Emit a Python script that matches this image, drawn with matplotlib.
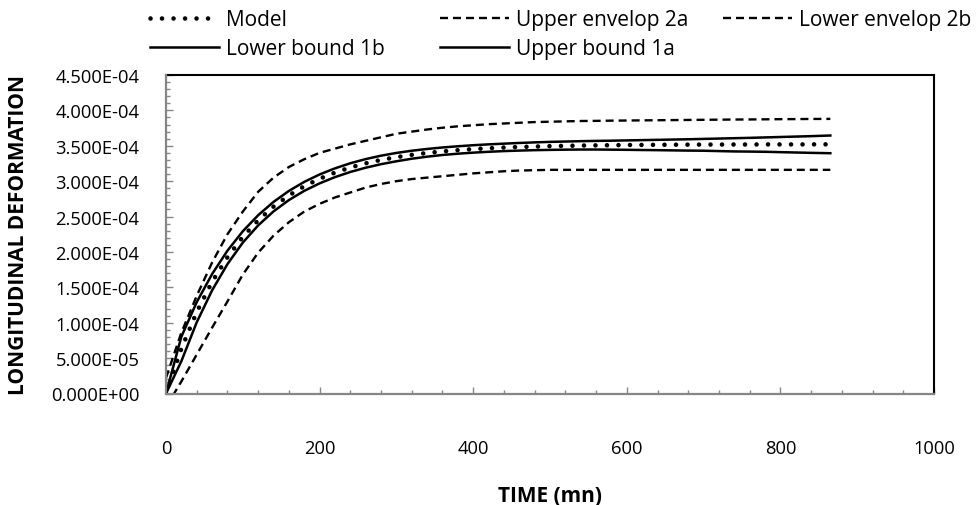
import numpy as np
import matplotlib
matplotlib.use("Agg")
import matplotlib.pyplot as plt
from matplotlib.ticker import MultipleLocator, FuncFormatter

plt.rcParams['font.family'] = ['Open Sans', 'DejaVu Sans']

# ---- data (time in mn, deformation in 1e-4) ----
time = [0, 20, 40, 60, 80, 100, 120, 140, 160, 180, 200, 220, 240, 260, 280, 300,
        320, 340, 360, 380, 400, 420, 440, 460, 480, 500, 520, 540, 560, 580, 600,
        620, 640, 660, 680, 700, 720, 740, 760, 780, 800, 820, 840, 865]

model = [0.000, 0.632, 1.151, 1.577, 1.925, 2.212, 2.447, 2.640, 2.798, 2.928, 3.034,
         3.121, 3.193, 3.252, 3.300, 3.339, 3.372, 3.398, 3.420, 3.438, 3.453, 3.465,
         3.475, 3.483, 3.489, 3.495, 3.499, 3.503, 3.506, 3.508, 3.511, 3.512, 3.514,
         3.515, 3.516, 3.517, 3.517, 3.518, 3.518, 3.519, 3.519, 3.519, 3.520, 3.520]

upper_env_2a = [0.22, 0.86, 1.38, 1.85, 2.25, 2.57, 2.85, 3.05, 3.20, 3.31, 3.40,
                3.46, 3.52, 3.57, 3.62, 3.67, 3.70, 3.73, 3.755, 3.775, 3.79, 3.805,
                3.815, 3.825, 3.835, 3.840, 3.845, 3.850, 3.852, 3.855, 3.857, 3.859,
                3.861, 3.863, 3.865, 3.867, 3.869, 3.871, 3.872, 3.874, 3.876, 3.877,
                3.879, 3.880]

lower_env_2b = [-0.19, 0.17, 0.55, 0.93, 1.30, 1.68, 1.99, 2.23, 2.42, 2.57, 2.68,
                2.77, 2.84, 2.91, 2.96, 3.00, 3.03, 3.05, 3.07, 3.09, 3.11, 3.125,
                3.14, 3.15, 3.155, 3.16, 3.16, 3.16, 3.16, 3.16, 3.16, 3.16, 3.16,
                3.16, 3.16, 3.16, 3.16, 3.16, 3.16, 3.16, 3.16, 3.16, 3.16, 3.16]

lower_bound_1b = [0.000, 0.456, 1.006, 1.457, 1.828, 2.132, 2.375, 2.573, 2.733, 2.863,
                  2.969, 3.057, 3.130, 3.190, 3.240, 3.281, 3.317, 3.346, 3.370, 3.388,
                  3.403, 3.415, 3.425, 3.432, 3.438, 3.442, 3.445, 3.447, 3.447, 3.445,
                  3.443, 3.440, 3.438, 3.435, 3.432, 3.430, 3.425, 3.420, 3.418, 3.415,
                  3.410, 3.405, 3.400, 3.395]

upper_bound_1a = [0.000, 0.802, 1.291, 1.687, 2.018, 2.292, 2.519, 2.707, 2.862, 2.990,
                  3.095, 3.181, 3.253, 3.312, 3.360, 3.399, 3.430, 3.455, 3.476, 3.493,
                  3.508, 3.520, 3.530, 3.540, 3.548, 3.555, 3.560, 3.565, 3.569, 3.572,
                  3.576, 3.580, 3.584, 3.588, 3.592, 3.597, 3.602, 3.607, 3.612, 3.618,
                  3.624, 3.630, 3.636, 3.645]

scale = 1e-4

fig = plt.figure(figsize=(9.79, 5.06), dpi=100)
ax = fig.add_axes([166/979, (506-394.5)/506, (934-166)/979, (394.5-76)/506])

t = np.array(time)
h_model, = ax.plot(t, np.array(model)*scale, color='black', lw=3.3,
                   linestyle=(0, (0.01, 2.5)), dash_capstyle='round', label='Model')
h_u2a, = ax.plot(t, np.array(upper_env_2a)*scale, color='black', lw=1.7,
                 linestyle=(0, (3.4, 2.1)), label='Upper envelop 2a')
h_l2b, = ax.plot(t, np.array(lower_env_2b)*scale, color='black', lw=1.7,
                 linestyle=(0, (3.4, 2.1)), label='Lower envelop 2b')
h_l1b, = ax.plot(t, np.array(lower_bound_1b)*scale, color='black', lw=1.8,
                 label='Lower bound 1b')
h_u1a, = ax.plot(t, np.array(upper_bound_1a)*scale, color='black', lw=1.8,
                 label='Upper bound 1a')

ax.set_xlim(0, 1000)
ax.set_ylim(0, 4.5e-4)
ax.xaxis.set_major_locator(MultipleLocator(200))
ax.xaxis.set_minor_locator(MultipleLocator(40))
ax.yaxis.set_major_locator(MultipleLocator(5e-5))
ax.yaxis.set_minor_locator(MultipleLocator(1e-5))
ax.yaxis.set_major_formatter(FuncFormatter(lambda v, p: f"{v:.3E}"))
ax.xaxis.set_major_formatter(FuncFormatter(lambda v, p: f"{v:.0f}"))

gray = '#868686'
ax.tick_params(axis='both', which='both', direction='in', color=gray, width=1,
               top=False, right=False, labelsize=13.2, labelcolor='black')
ax.tick_params(axis='both', which='major', length=5)
ax.tick_params(axis='both', which='minor', length=3)
ax.tick_params(axis='x', which='major', pad=33)
ax.tick_params(axis='y', which='major', pad=19)

for s in ['top', 'right']:
    ax.spines[s].set_color('black')
    ax.spines[s].set_linewidth(1.5)
for s in ['left', 'bottom']:
    ax.spines[s].set_color(gray)
    ax.spines[s].set_linewidth(1.6)
    ax.spines[s].set_zorder(5)

ax.set_xlabel('TIME (mn)', fontsize=15, fontweight='bold', labelpad=20)
ax.set_ylabel('LONGITUDINAL DEFORMATION', fontsize=15, fontweight='bold', labelpad=16)

# legend: three columns placed like the reference
leg_kw = dict(frameon=False, fontsize=15, handlelength=3.3, handletextpad=0.35,
              labelspacing=0.4, borderaxespad=0.0, borderpad=0.0, loc='upper left')
cols = [([h_model, h_l1b], 150), ([h_u2a, h_u1a], 440), ([h_l2b], 723)]
for hs, x0 in cols:
    fig.legend(handles=hs, labels=[h.get_label() for h in hs],
               bbox_to_anchor=(x0/979, 1 - 10/506), **leg_kw)

fig.savefig('out.png', dpi=100)
